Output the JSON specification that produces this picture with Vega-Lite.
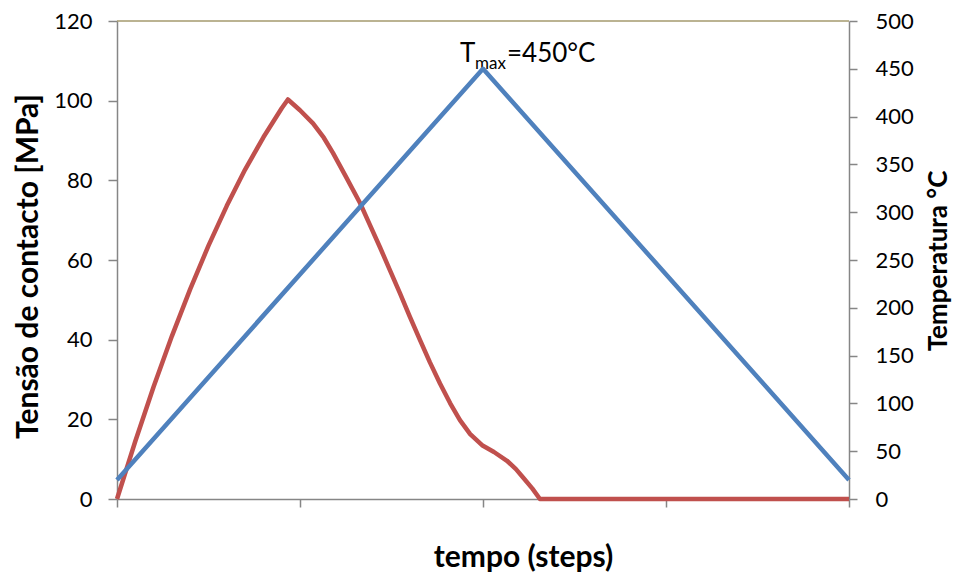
{
  "$schema": "https://vega.github.io/schema/vega-lite/v6.json",
  "width": 732,
  "height": 478,
  "autosize": "none",
  "padding": {"left": 117, "top": 21, "right": 104, "bottom": 79},
  "background": "white",
  "config": {
    "view": {"stroke": null},
    "font": "Lato",
    "axis": {
      "labelFont": "Lato",
      "titleFont": "Lato",
      "labelFontSize": 22,
      "labelColor": "#000000",
      "titleColor": "#000000",
      "domainColor": "#868686",
      "tickColor": "#868686",
      "domainWidth": 1.5,
      "tickWidth": 1.5,
      "grid": false,
      "titleFontWeight": "bold"
    }
  },
  "datasets": {
    "tension": [
      {"t": 0, "v": 0},
      {"t": 0.1, "v": 14.5},
      {"t": 0.2, "v": 28.2},
      {"t": 0.3, "v": 40.9},
      {"t": 0.4, "v": 52.7},
      {"t": 0.5, "v": 63.6},
      {"t": 0.6, "v": 73.6},
      {"t": 0.7, "v": 82.7},
      {"t": 0.8, "v": 90.8},
      {"t": 0.9, "v": 98.1},
      {"t": 0.934, "v": 100.3},
      {"t": 1.0, "v": 97.6},
      {"t": 1.071, "v": 94.3},
      {"t": 1.13, "v": 90.7},
      {"t": 1.18, "v": 86.9},
      {"t": 1.25, "v": 81.0},
      {"t": 1.328, "v": 74.3},
      {"t": 1.38, "v": 69.0},
      {"t": 1.437, "v": 63.2},
      {"t": 1.49, "v": 57.6},
      {"t": 1.546, "v": 51.7},
      {"t": 1.6, "v": 45.8},
      {"t": 1.656, "v": 39.9},
      {"t": 1.71, "v": 34.3},
      {"t": 1.765, "v": 29.0},
      {"t": 1.82, "v": 24.1},
      {"t": 1.874, "v": 19.8},
      {"t": 1.93, "v": 16.3},
      {"t": 1.995, "v": 13.5},
      {"t": 2.06, "v": 11.8},
      {"t": 2.131, "v": 9.6},
      {"t": 2.18, "v": 7.5},
      {"t": 2.219, "v": 5.4},
      {"t": 2.27, "v": 2.6},
      {"t": 2.311, "v": 0},
      {"t": 4, "v": 0}
    ],
    "temperature": [
      {"t": 0, "T": 20},
      {"t": 2, "T": 450},
      {"t": 4, "T": 20}
    ]
  },
  "layer": [
    {
      "layer": [
        {
          "data": {"values": [{}]},
          "mark": {"type": "rule", "color": "#a59a6e", "strokeWidth": 1.5},
          "encoding": {
            "y": {"datum": 120, "type": "quantitative", "title": "Tensão de contacto [MPa]"}
          }
        },
        {
          "data": {"name": "tension"},
          "mark": {"type": "line", "color": "#C0504D", "strokeWidth": 4.5, "strokeJoin": "round"},
          "encoding": {
            "x": {
              "field": "t", "type": "quantitative",
              "scale": {"domain": [0, 4], "nice": false, "zero": false},
              "axis": {"values": [0, 1, 2, 3, 4], "labels": false, "tickSize": 8, "title": "tempo (steps)", "titleFontSize": 30, "titleX": 406, "titleY": 67, "titleBaseline": "alphabetic", "titleAlign": "center"}
            },
            "y": {
              "field": "v", "type": "quantitative",
              "title": "Tensão de contacto [MPa]",
              "scale": {"domain": [0, 120], "nice": false},
              "axis": {"orient": "left", "values": [0, 20, 40, 60, 80, 100, 120], "tickSize": 9, "labelPadding": 16, "titleFontSize": 30, "titleAngle": 270, "titleX": -80, "titleY": 245, "titleBaseline": "alphabetic", "titleAlign": "center"}
            }
          }
        },
        {
          "data": {"values": [{}]},
          "mark": {"type": "text", "align": "left", "baseline": "alphabetic", "fontSize": 26, "font": "Lato"},
          "encoding": {
            "x": {"datum": 1.874, "type": "quantitative"},
            "y": {"datum": 109.7, "type": "quantitative"},
            "text": {"value": "T"}
          }
        },
        {
          "data": {"values": [{}]},
          "mark": {"type": "text", "align": "left", "baseline": "alphabetic", "fontSize": 17, "font": "Lato"},
          "encoding": {
            "x": {"datum": 1.956, "type": "quantitative"},
            "y": {"datum": 108.0, "type": "quantitative"},
            "text": {"value": "max"}
          }
        },
        {
          "data": {"values": [{}]},
          "mark": {"type": "text", "align": "left", "baseline": "alphabetic", "fontSize": 26, "font": "Lato"},
          "encoding": {
            "x": {"datum": 2.131, "type": "quantitative"},
            "y": {"datum": 109.7, "type": "quantitative"},
            "text": {"value": "=450°C"}
          }
        }
      ]
    },
    {
      "data": {"name": "temperature"},
      "mark": {"type": "line", "color": "#4F81BD", "strokeWidth": 4.5, "strokeJoin": "round"},
      "encoding": {
        "x": {"field": "t", "type": "quantitative"},
        "y": {
          "field": "T", "type": "quantitative",
          "title": "Temperatura °C",
          "scale": {"domain": [0, 500], "nice": false},
          "axis": {"orient": "right", "values": [0, 50, 100, 150, 200, 250, 300, 350, 400, 450, 500], "tickSize": 8, "labelPadding": 18, "titleFontSize": 26, "titleAngle": 270, "titleX": 97, "titleY": 239.5, "titleBaseline": "alphabetic", "titleAlign": "center"}
        }
      }
    }
  ],
  "resolve": {"scale": {"y": "independent"}}
}
